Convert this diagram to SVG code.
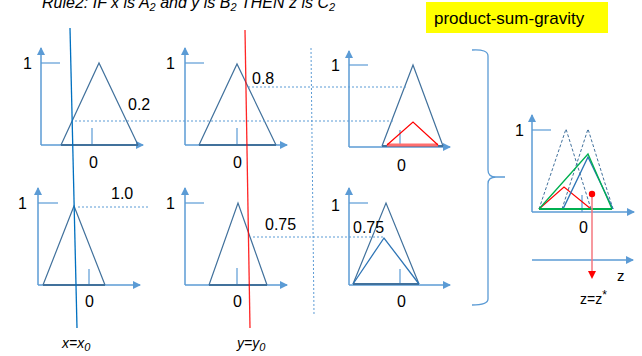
<svg xmlns="http://www.w3.org/2000/svg" width="642" height="356" viewBox="0 0 642 356">
<defs>
<marker id="ax" markerWidth="8" markerHeight="8" refX="7" refY="4" orient="auto" markerUnits="userSpaceOnUse">
<path d="M0,0 L8,4 L0,8 Z" fill="#5B9BD5"/>
</marker>
</defs>
<style>
.ax{fill:none;stroke:#5B9BD5;stroke-width:1.5;marker-end:url(#ax)}
.tk{fill:none;stroke:#5B9BD5;stroke-width:1.2}
.tri{fill:none;stroke:#41719C;stroke-width:1.2;stroke-linejoin:miter}
.base{stroke:#41719C;stroke-width:2}
.dot{fill:none;stroke:#5B9BD5;stroke-width:1;stroke-dasharray:2,2}
.dash{fill:none;stroke:#41719C;stroke-width:1;stroke-dasharray:3,2}
text{font-family:"Liberation Sans",Arial,sans-serif;font-size:16px;fill:#000}
.it{font-style:italic;font-size:14px}
</style>

<g id="title">
<text class="it" x="42" y="8" style="font-size:16px">Rule2: IF x is A<tspan dy="3" font-size="11">2</tspan><tspan dy="-3"> and y is B</tspan><tspan dy="3" font-size="11">2</tspan><tspan dy="-3"> THEN z is C</tspan><tspan dy="3" font-size="11">2</tspan></text>
</g>

<g id="method">
<rect x="426" y="2" width="182" height="31" fill="#FFFF00"/>
<text x="434" y="24" style="font-size:17px">product-sum-gravity</text>
</g>

<g id="panelA1">
<line class="ax" x1="41" y1="145" x2="41" y2="48"/>
<line class="ax" x1="41" y1="145" x2="143" y2="145"/>
<line class="tk" x1="41" y1="63" x2="60" y2="63"/>
<line class="tk" x1="92" y1="128" x2="92" y2="145"/>
<line class="base" x1="61" y1="145" x2="138" y2="145"/>
<polyline class="tri" points="61,145 99,63 138,145"/>
<text x="23" y="69">1</text>
<text x="89" y="168">0</text>
<text x="128" y="110">0.2</text>
</g>

<g id="panelB1">
<line class="ax" x1="185" y1="145" x2="185" y2="48"/>
<line class="ax" x1="185" y1="145" x2="287" y2="145"/>
<line class="tk" x1="185" y1="63" x2="204" y2="63"/>
<line class="tk" x1="237" y1="128" x2="237" y2="145"/>
<line class="base" x1="199" y1="145" x2="276" y2="145"/>
<polyline class="tri" points="199,145 237,64 276,145"/>
<text x="166" y="69">1</text>
<text x="233" y="168">0</text>
<text x="252" y="84">0.8</text>
</g>

<g id="panelC1">
<line class="ax" x1="349" y1="147" x2="349" y2="51"/>
<line class="ax" x1="349" y1="147" x2="450" y2="147"/>
<line class="tk" x1="349" y1="65" x2="368" y2="65"/>
<line class="tk" x1="400" y1="130" x2="400" y2="147"/>
<line class="base" x1="382" y1="146" x2="443" y2="146"/>
<polyline class="tri" points="382,146 413,65 443,146"/>
<line x1="387" y1="145" x2="438" y2="145" stroke="#FF6F6F" stroke-width="3"/>
<polyline points="387,145 413,122 438,145" fill="none" stroke="#FF0000" stroke-width="1.2"/>
<text x="397" y="171">0</text>
<text x="331" y="71">1</text>
</g>

<g id="panelA2">
<line class="ax" x1="38" y1="285" x2="38" y2="188"/>
<line class="ax" x1="38" y1="285" x2="140" y2="285"/>
<line class="tk" x1="38" y1="203" x2="58" y2="203"/>
<line class="tk" x1="89" y1="269" x2="89" y2="285"/>
<line class="base" x1="43" y1="285" x2="105" y2="285"/>
<polyline class="tri" points="43,285 74,206 105,285"/>
<text x="18" y="209">1</text>
<text x="85" y="307">0</text>
<text x="111" y="199">1.0</text>
<text class="it" x="62" y="348">x=x<tspan dy="3" font-size="11">0</tspan></text>
</g>

<g id="panelB2">
<line class="ax" x1="185" y1="285" x2="185" y2="188"/>
<line class="ax" x1="185" y1="285" x2="287" y2="285"/>
<line class="tk" x1="185" y1="203" x2="204" y2="203"/>
<line class="tk" x1="237" y1="268" x2="237" y2="285"/>
<line class="base" x1="209" y1="285" x2="267" y2="285"/>
<polyline class="tri" points="209,285 238,203 267,285"/>
<text x="166" y="209">1</text>
<text x="233" y="307">0</text>
<text x="265" y="230">0.75</text>
<text class="it" x="237" y="348">y=y<tspan dy="3" font-size="11">0</tspan></text>
</g>

<g id="panelC2">
<line class="ax" x1="349" y1="285" x2="349" y2="188"/>
<line class="ax" x1="349" y1="285" x2="450" y2="285"/>
<line class="tk" x1="349" y1="203" x2="368" y2="203"/>
<line class="tk" x1="400" y1="269" x2="400" y2="285"/>
<line class="base" x1="353" y1="284" x2="419" y2="284"/>
<polyline class="tri" points="353,284 386,203 419,284"/>
<polyline points="353,284 384,238 419,284" fill="none" stroke="#2E75B6" stroke-width="1.3"/>
<text x="331" y="211">1</text>
<text x="353" y="233">0.75</text>
<text x="397" y="307">0</text>
</g>

<g id="brace">
<path d="M472,50 Q488,49 488,56 L488,170 Q488,177 496,177 L505,177 M496,177 Q488,177 488,184 L488,299 Q488,305 472,305" fill="none" stroke="#5B9BD5" stroke-width="1.3"/>
</g>

<g id="result">
<line class="ax" x1="532" y1="212" x2="532" y2="115"/>
<line class="ax" x1="532" y1="212" x2="634" y2="212"/>
<line class="tk" x1="532" y1="130" x2="551" y2="130"/>
<line class="tk" x1="582" y1="195" x2="582" y2="212"/>
<polyline class="dash" points="539,209 566,129 591,209"/>
<polyline class="dash" points="562,209 588,129 613,209"/>
<polyline points="539,209 564,187 591,209" fill="none" stroke="#FF0000" stroke-width="1.1"/>
<polyline points="563,209 588,157 613,209" fill="none" stroke="#2E75B6" stroke-width="1.4"/>
<line x1="539" y1="209" x2="612" y2="209" stroke="#00B050" stroke-width="2.2"/>
<polyline points="539,209 588,154 612,209" fill="none" stroke="#00B050" stroke-width="1.3"/>
<text x="515" y="136">1</text>
<text x="579" y="233">0</text>
<line class="ax" x1="532" y1="260" x2="633" y2="260"/>
<text x="617" y="281" style="font-size:15px">z</text>
<text x="580" y="304" style="font-size:14px">z=z<tspan dy="-5" font-size="12">*</tspan></text>
</g>

<g id="connectors">
<line x1="70" y1="28" x2="77" y2="328" stroke="#0070C0" stroke-width="1.3"/>
<line x1="245" y1="30" x2="250" y2="328" stroke="#FF0000" stroke-width="1.3" opacity="0.85"/>
<line class="dot" x1="75" y1="121" x2="393" y2="121"/>
<line class="dot" x1="248" y1="87" x2="408" y2="87"/>
<line class="dot" x1="78" y1="207" x2="148" y2="207"/>
<line class="dot" x1="253" y1="237" x2="385" y2="237"/>
<line class="dot" x1="311" y1="48" x2="314" y2="315"/>
<line x1="592" y1="196" x2="592" y2="272" stroke="#F4777F" stroke-width="1.5"/>
<path d="M588,271 L596,271 L592,279 Z" fill="#FF0000"/>
<circle cx="592" cy="194" r="3.2" fill="#FF0000"/>
</g>
</svg>
